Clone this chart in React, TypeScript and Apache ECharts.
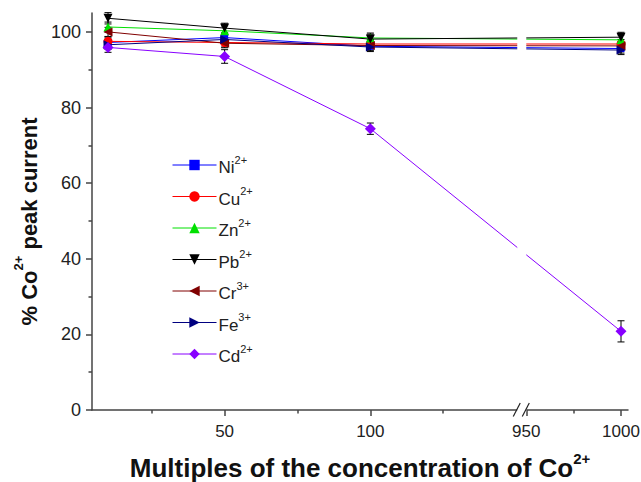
import React, { useEffect, useRef } from 'react';
import * as echarts from 'echarts';

// ---------- data ----------
const xValues = [10, 50, 100, 1000];
const ionNames = ['Ni', 'Cu', 'Zn', 'Pb', 'Cr', 'Fe', 'Cd'];
const ionCharges = ['2+', '2+', '2+', '2+', '3+', '3+', '2+'];
const niValues = [97.2, 98.5, 96.2, 95.6];
const cuValues = [97.5, 97.2, 96.8, 96.8];
const znValues = [101.3, 100.3, 98.4, 97.9];
const pbValues = [103.6, 101.0, 98.1, 98.6];
const crValues = [100.0, 97.0, 96.4, 96.3];
const feValues = [96.6, 98.0, 96.0, 95.2];
const cdValues = [95.9, 93.5, 74.4, 20.8];
const niErr = [1.2, 1.2, 1.2, 1.2];
const cuErr = [1.2, 1.2, 1.2, 1.2];
const znErr = [1.3, 1.3, 1.3, 1.3];
const pbErr = [1.5, 1.3, 1.3, 1.3];
const crErr = [1.2, 1.2, 1.2, 1.2];
const feErr = [1.2, 1.2, 1.2, 1.2];
const cdErr = [1.3, 1.8, 1.5, 2.8];
const xMajorTicks = [50, 100, 950, 1000];
const xMinorTicks = [25, 75, 125, 975];
const yMajorTicks = [0, 20, 40, 60, 80, 100];
const yMinorTicks = [10, 30, 50, 70, 90];

const allValues = [niValues, cuValues, znValues, pbValues, crValues, feValues, cdValues];
const allErrors = [niErr, cuErr, znErr, pbErr, crErr, feErr, cdErr];
const colors = ['#0000ff', '#ff0000', '#00e000', '#000000', '#800000', '#000080', '#8800ff'];
const symbols = ['rect', 'circle', 'triangle', 'triangle', 'triangle', 'triangle', 'diamond'];
const rotations = [0, 0, 0, 180, 90, -90, 0];

// broken x axis: segment 1 [.., 150] and segment 2 [950, ..] with a different scale
const SEG1_END = 150;
const SEG2_START = 950;
const SEG2_POS = 153.5;
const SEG2_SCALE = 0.65;
const toPos = (v: number) => (v <= SEG1_END ? v : SEG2_POS + (v - SEG2_START) * SEG2_SCALE);
const fromPos = (p: number) =>
  p <= SEG1_END + 1 ? Math.round(p) : Math.round(SEG2_START + (p - SEG2_POS) / SEG2_SCALE);

const X_MIN = 4.5;
const X_MAX = 188.4;
const Y_MIN = 0;
const Y_MAX = 105;

const FONT = '"Liberation Sans", Arial, sans-serif';

export default function App() {
  const ref = useRef<HTMLDivElement>(null);

  useEffect(() => {
    document.body.style.margin = '0';
    document.body.style.overflow = 'hidden';
    if (!ref.current) return;
    const chart = echarts.init(ref.current, null, { renderer: 'svg' });

    const lineSeries = ionNames.map((ion, i) => ({
      name: ion + ionCharges[i],
      type: 'line',
      xAxisIndex: 0,
      yAxisIndex: 0,
      data: xValues.map((x, j) => [toPos(x), allValues[i][j]]),
      symbol: symbols[i],
      symbolRotate: rotations[i],
      symbolSize: symbols[i] === 'rect' ? 7 : symbols[i] === 'diamond' ? 11 : 9,
      lineStyle: { color: colors[i], width: 1 },
      itemStyle: { color: colors[i] },
      z: 3,
    }));

    const errData: number[][] = [];
    ionNames.forEach((_, i) => {
      xValues.forEach((x, j) => {
        errData.push([toPos(x), allValues[i][j], allErrors[i][j]]);
      });
    });

    const errSeries = {
      type: 'custom',
      xAxisIndex: 0,
      yAxisIndex: 0,
      data: errData,
      z: 2,
      silent: true,
      renderItem: (params: any, api: any) => {
        const x = api.value(0);
        const y = api.value(1);
        const e = api.value(2);
        const top = api.coord([x, y + e]);
        const bot = api.coord([x, y - e]);
        const hw = 3.5;
        const st = { stroke: '#000', lineWidth: 1 };
        return {
          type: 'group',
          children: [
            { type: 'line', shape: { x1: top[0], y1: top[1], x2: bot[0], y2: bot[1] }, style: st },
            { type: 'line', shape: { x1: top[0] - hw, y1: top[1], x2: top[0] + hw, y2: top[1] }, style: st },
            { type: 'line', shape: { x1: bot[0] - hw, y1: bot[1], x2: bot[0] + hw, y2: bot[1] }, style: st },
          ],
        };
      },
    };

    const axisLineStyle = { color: '#444', width: 1.5 };
    const richX = {
      b: { fontSize: 26, fontWeight: 'bold', fontFamily: FONT, color: '#111', lineHeight: 30, verticalAlign: 'bottom' },
      s: { fontSize: 15, fontWeight: 'bold', fontFamily: FONT, color: '#111', lineHeight: 30, verticalAlign: 'top' },
    };
    const richY = {
      b: { fontSize: 22, fontWeight: 'bold', fontFamily: FONT, color: '#111', lineHeight: 28, verticalAlign: 'bottom' },
      s: { fontSize: 13, fontWeight: 'bold', fontFamily: FONT, color: '#111', lineHeight: 28, verticalAlign: 'top' },
    };

    chart.setOption({
      animation: false,
      backgroundColor: '#fff',
      grid: { left: 92, right: 13, top: 13, bottom: 72, containLabel: false, outerBoundsMode: 'none' },
      legend: {
        orient: 'vertical',
        left: 167,
        top: 149,
        itemWidth: 44,
        itemHeight: 13,
        itemGap: 9.5,
        lineStyle: { width: 1 },
        data: ionNames.map((ion, i) => ion + ionCharges[i]),
        formatter: (name: string) => {
          const i = ionNames.findIndex((n, k) => n + ionCharges[k] === name);
          return `{n|${ionNames[i]}}{c|${ionCharges[i]}}`;
        },
        textStyle: {
          padding: [0, 0, 0, -3],
          rich: {
            n: { fontSize: 17, fontFamily: FONT, color: '#222', lineHeight: 22, verticalAlign: 'bottom' },
            c: { fontSize: 11, fontFamily: FONT, color: '#222', lineHeight: 22, verticalAlign: 'top' },
          },
        },
      },
      xAxis: [
        {
          type: 'value',
          min: X_MIN,
          max: X_MAX,
          position: 'bottom',
          splitLine: { show: false },
          axisLine: { show: true, lineStyle: axisLineStyle },
          axisTick: { show: true, length: 6, lineStyle: axisLineStyle, customValues: xMajorTicks.map(toPos) },
          axisLabel: {
            customValues: xMajorTicks.map(toPos),
            formatter: (v: number) => String(fromPos(v)),
            fontSize: 17,
            fontFamily: FONT,
            color: '#222',
            margin: 13,
          },
          name: '{b|Multiples of the concentration of Co}{s|2+}',
          nameLocation: 'middle',
          nameGap: 41,
          nameTextStyle: { rich: richX },
        },
        {
          type: 'value',
          min: X_MIN,
          max: X_MAX,
          position: 'bottom',
          splitLine: { show: false },
          axisLine: { show: false },
          axisTick: { show: true, length: 3.5, lineStyle: axisLineStyle, customValues: xMinorTicks.map(toPos) },
          axisLabel: { show: false },
        },
      ],
      yAxis: [
        {
          type: 'value',
          min: Y_MIN,
          max: Y_MAX,
          splitLine: { show: false },
          axisLine: { show: true, lineStyle: axisLineStyle },
          axisTick: { show: true, length: 6, lineStyle: axisLineStyle, customValues: yMajorTicks },
          axisLabel: {
            customValues: yMajorTicks,
            fontSize: 18,
            fontFamily: FONT,
            color: '#222',
            margin: 11,
          },
          name: '{b|% Co}{s|2+}{b| peak current}',
          nameLocation: 'middle',
          nameGap: 51,
          nameRotate: 90,
          nameTextStyle: { rich: richY, padding: [0, 20, 0, 0] },
        },
        {
          type: 'value',
          min: Y_MIN,
          max: Y_MAX,
          position: 'left',
          splitLine: { show: false },
          axisLine: { show: false },
          axisTick: { show: true, length: 3.5, lineStyle: axisLineStyle, customValues: yMinorTicks },
          axisLabel: { show: false },
        },
      ],
      series: [errSeries, ...lineSeries],
    });

    // axis-break decoration positioned through the axis scale
    const gx0 = chart.convertToPixel({ xAxisIndex: 0 }, SEG1_END + 0.4) as number;
    const gx1 = chart.convertToPixel({ xAxisIndex: 0 }, SEG2_POS) as number;
    const yTop = chart.convertToPixel({ yAxisIndex: 0 }, Y_MAX) as number;
    const yAx = chart.convertToPixel({ yAxisIndex: 0 }, Y_MIN) as number;
    const slash = { stroke: '#222', lineWidth: 1.2 };
    chart.setOption({
      graphic: [
        {
          type: 'rect',
          z: 100,
          shape: { x: gx0, y: yTop, width: gx1 - gx0, height: yAx - yTop + 1.5 },
          style: { fill: '#fff' },
        },
        {
          type: 'line',
          z: 101,
          shape: { x1: gx0 - 4, y1: yAx + 6.5, x2: gx0 + 3, y2: yAx - 7 },
          style: slash,
        },
        {
          type: 'line',
          z: 101,
          shape: { x1: gx1 - 4, y1: yAx + 6.5, x2: gx1 + 3, y2: yAx - 7 },
          style: slash,
        },
      ],
    });

    return () => chart.dispose();
  }, []);

  return (
    <div
      ref={ref}
      style={{ position: 'fixed', left: 0, top: 0, width: 641, height: 482, background: '#fff' }}
    />
  );
}
